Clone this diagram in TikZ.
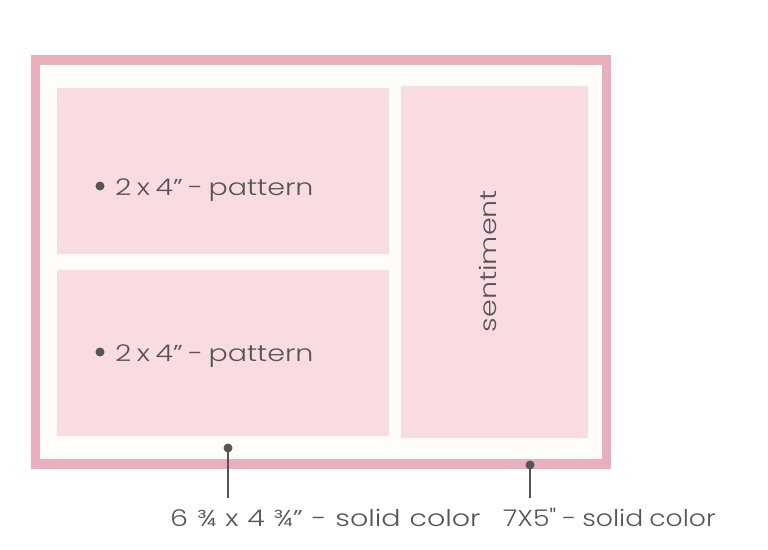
\documentclass[tikz,border=0pt]{standalone}
\usepackage{fontspec}
\setmainfont{Poppins}[UprightFont=* Light, FakeStretch=1.24, WordSpace=0.7]
\newfontfamily\narrowlbl{Poppins}[UprightFont=* Light, FakeStretch=1.16]
\definecolor{outerpink}{HTML}{E9AFBC}
\definecolor{cream}{HTML}{FFFDF8}
\definecolor{boxpink}{HTML}{F8DCE1}
\definecolor{ink}{HTML}{555555}
\tikzset{
  panel/.style={fill=boxpink, draw=none, anchor=north west, inner sep=0pt},
  lbl/.style={text=ink, font=\fontsize{23}{26}\selectfont, inner sep=0pt},
  pin/.style={draw=ink, line width=1.4pt},
  pindot/.style={fill=ink}
}
\begin{document}
\begin{tikzpicture}[x=1pt,y=-1pt]
\useasboundingbox (0,0) rectangle (768,549);
\fill[white] (0,0) rectangle (768,549);
\fill[outerpink] (31,55) rectangle (611,469);
\fill[cream] (40,65) rectangle (602,459);
\node[panel, minimum width=332pt, minimum height=166pt] (top) at (57,88) {};
\node[panel, minimum width=332pt, minimum height=166pt] (bot) at (57,270) {};
\node[panel, minimum width=187pt, minimum height=352pt] (right) at (401,86) {};
% bullets and texts
\fill[ink] (100,186) circle (4.5pt);
\node[lbl, anchor=base west] (t1) at (115,195) {2 x 4” - pattern};
\fill[ink] (100,352) circle (4.5pt);
\node[lbl, anchor=base west] (t2) at (115,361) {2 x 4” - pattern};
\node[lbl, rotate=90, anchor=base] (sent) at (496,261) {sentiment};
% pins
\coordinate (d1) at (228,448);
\coordinate (e1) at (228,498);
\coordinate (d2) at (530,465);
\coordinate (e2) at (530,498);
\draw[pin] (d1) -- (e1);
\draw[pin] (d2) -- (e2);
\fill[pindot] (d1) circle (4.5pt);
\fill[pindot] (d2) circle (4.5pt);
\node[lbl, anchor=base west] (l1) at (170,526) {\spaceskip=8.9pt 6 ¾ x 4 ¾” - solid color};
\node[lbl, anchor=base west] (l2) at (503,526) {\narrowlbl\fontsize{23}{26}\selectfont\spaceskip=6pt 7X5" - solid color};
\end{tikzpicture}
\end{document}
